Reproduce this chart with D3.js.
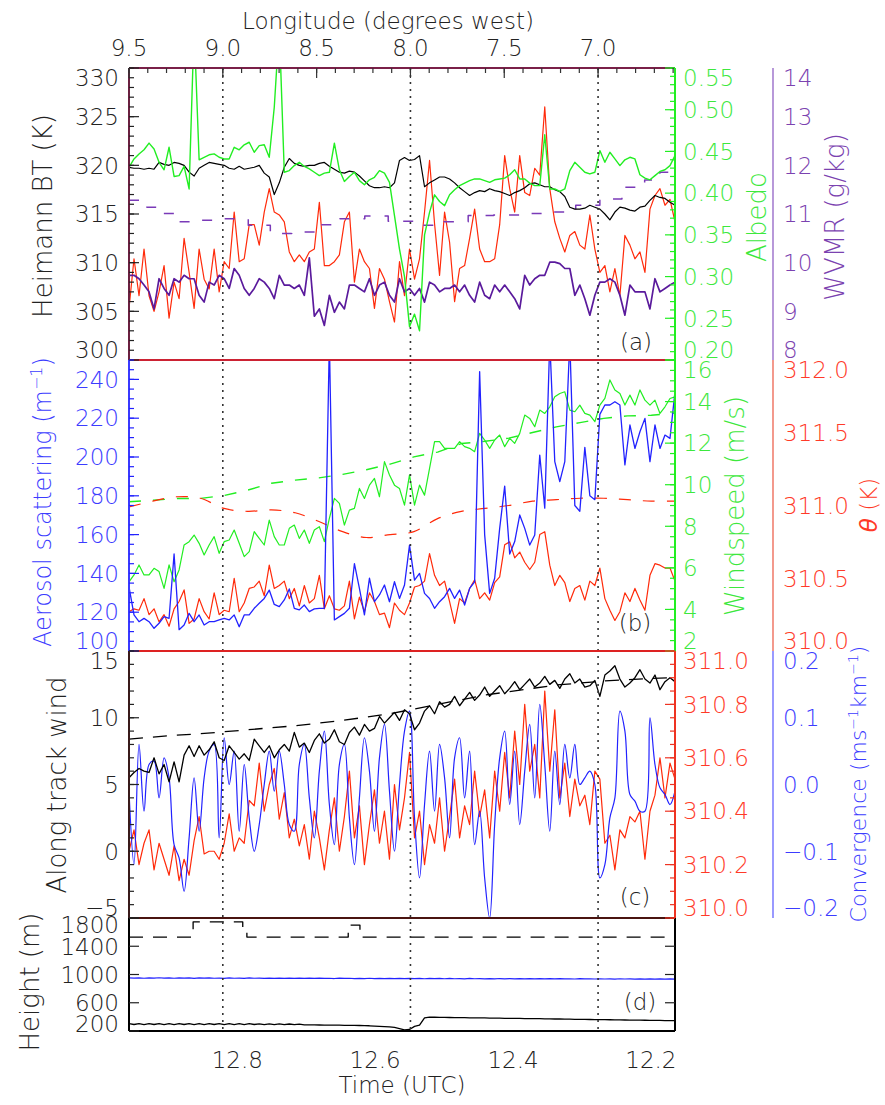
<!DOCTYPE html>
<html><head><meta charset="utf-8">
<script src="https://cdn.jsdelivr.net/npm/d3@7"></script>
<style>
body{margin:0;background:#fff;}
svg text{font-family:"DejaVu Sans",sans-serif;font-weight:200;}
</style></head><body>
<svg id="c" width="885" height="1105"></svg>
<script>
// ---------------- DATA ----------------
const timeStart = 12.957, timeEnd = 12.165;          // UTC hours, left to right
const timeTicks = [12.8, 12.6, 12.4, 12.2];
const lonDomain = [9.5, 6.59];                         // degrees west at left/right edge
const lonTicks = [9.5, 9.0, 8.5, 8.0, 7.5, 7.0];
const lonMarks = [9.0, 8.0, 7.0];

// panel (a)
const btTicks = [300, 305, 310, 315, 320, 325, 330];
const albedoTicks = [0.20, 0.25, 0.30, 0.35, 0.40, 0.45, 0.50, 0.55];
const wvmrTicks = [8, 9, 10, 11, 12, 13, 14];
const btBlack = [319.8,319.7,319.7,319.6,319.7,319.6,320.3,320.1,320.0,320.3,
320.2,320.0,319.3,318.9,319.7,320.0,320.3,320.2,320.1,320.0,
319.7,319.6,319.9,319.6,319.7,319.8,320.0,319.2,318.8,317.0,
318.2,319.8,320.7,320.2,320.0,319.9,320.0,320.0,320.2,320.3,
319.9,319.6,319.3,319.2,319.4,319.3,318.9,318.4,317.9,317.7,
317.7,317.8,317.7,318.2,320.5,320.8,320.5,320.6,321.0,317.8,
318.2,318.5,318.8,318.8,318.6,318.2,317.7,317.3,316.9,317.2,
317.4,317.3,317.6,317.4,317.3,317.1,316.9,317.2,317.4,317.7,
318.1,318.2,318.0,317.8,317.8,317.5,317.3,316.8,315.7,315.5,
315.5,315.6,315.9,315.7,315.5,315.0,314.4,315.2,315.7,315.6,
315.4,315.3,315.7,315.8,316.4,316.9,316.7,316.6,316.2,315.9];
const btRed = [305.3,310.4,306.6,311.4,306.6,305.0,307.0,309.7,304.3,308.0,
306.3,312.5,309.0,305.3,311.4,308.3,307.3,311.4,307.0,310.1,
309.4,315.2,310.1,310.4,313.9,313.9,311.8,315.2,317.6,315.2,
314.9,314.2,311.1,310.1,310.8,310.1,311.1,311.4,316.2,309.7,
309.7,310.1,310.8,314.2,315.2,308.0,311.4,310.1,309.4,305.3,
309.4,308.3,306.0,303.9,310.1,306.6,311.4,308.3,310.4,315.2,
320.5,314.0,308.7,315.2,312.1,306.0,309.4,309.7,312.5,315.5,
311.4,310.1,310.1,310.4,313.9,321.0,317.6,315.2,321.0,317.2,
316.9,319.7,319.0,326.0,317.6,314.2,312.5,311.1,312.8,313.2,
311.8,311.4,314.9,311.4,309.0,309.7,307.0,309.4,306.6,312.8,
311.8,310.4,311.1,309.0,315.5,316.9,317.6,315.9,316.5,314.2];
const albedo = [0.431,0.441,0.447,0.452,0.460,0.453,0.437,0.428,0.455,0.420,
0.421,0.432,0.405,0.600,0.440,0.443,0.446,0.447,0.443,0.441,
0.441,0.455,0.452,0.458,0.461,0.449,0.457,0.458,0.443,0.503,
0.600,0.425,0.427,0.433,0.437,0.432,0.429,0.425,0.421,0.424,
0.425,0.460,0.428,0.414,0.420,0.425,0.415,0.410,0.416,0.419,
0.427,0.424,0.413,0.373,0.333,0.300,0.240,0.255,0.235,0.350,
0.377,0.398,0.390,0.385,0.398,0.404,0.409,0.412,0.415,0.417,
0.417,0.415,0.413,0.416,0.417,0.418,0.422,0.428,0.417,0.417,
0.412,0.409,0.409,0.470,0.405,0.405,0.402,0.405,0.427,0.437,
0.431,0.425,0.423,0.425,0.451,0.437,0.449,0.441,0.433,0.440,
0.443,0.441,0.422,0.418,0.416,0.421,0.426,0.428,0.433,0.445];
const wvmr = [9.74,9.74,9.67,9.54,9.40,9.05,9.67,9.47,9.33,9.67,
9.60,9.74,9.67,9.67,9.33,9.19,9.60,9.54,9.74,9.67,
9.47,9.88,9.74,9.47,9.33,9.47,9.67,9.60,9.47,9.26,
9.74,9.54,9.54,9.47,9.54,9.33,10.10,8.90,9.05,8.71,
9.33,8.98,9.19,9.05,9.54,9.54,9.47,9.40,9.67,9.33,
9.54,9.60,9.33,9.19,9.67,9.40,9.47,9.33,9.47,9.19,
9.60,9.54,9.40,9.47,9.47,9.54,9.40,9.54,9.33,9.19,
9.60,9.33,9.26,9.54,9.40,9.54,9.40,9.26,9.05,9.74,
9.54,9.67,9.74,9.74,10.01,10.01,9.98,9.88,9.88,9.33,
9.54,9.26,8.92,9.33,9.60,9.60,9.67,9.60,9.33,8.92,
9.54,9.40,9.40,9.40,9.05,9.67,9.40,9.47,9.54,9.60];
const wvmrStepT = [12.957,12.931,12.912,12.886,12.860,12.822,12.784,12.752,12.721,12.683,12.651,12.615,12.581,12.538,12.500,12.465,12.428,12.390,12.349,12.309,12.274,12.242,12.209,12.187,12.165];
const wvmrStepV = [11.28,11.14,11.01,10.84,10.87,10.90,10.77,10.60,10.63,10.78,10.90,10.96,10.85,10.77,10.84,10.97,10.98,11.01,11.04,11.18,11.31,11.55,11.70,11.86,11.86];

// panel (b)
const aeroTicks = [100, 120, 140, 160, 180, 200, 220, 240];
const windTicks = [2, 4, 6, 8, 10, 12, 14, 16];
const thetaBTicks = [310.0, 310.5, 311.0, 311.5, 312.0];
const aerosol = [133,118.6,115.1,116.8,115.1,111.7,114.3,117.7,116.8,150,
111,113.4,119.4,115.1,118.6,113.4,115.1,115.1,116.0,116.8,
116.0,118.6,112.5,118.6,118.6,122.0,124.6,127.1,131.4,124.0,
122.9,126.3,132,122.0,121.2,123.7,120.3,121.7,122.0,122.0,
260,116.0,117.7,119.4,122.0,145,132.3,118.6,137.5,125.4,
128.9,134.0,125.4,135.7,127.1,134.0,154.6,136.5,140.0,129.7,
127.1,122.0,125.4,128.0,132.3,127.1,131.4,123.7,132.3,135.7,
244,160,129.7,137.5,163.2,185,150,156.4,170.1,163.2,
154.6,159.8,201,173.6,260,197.6,187.3,197.6,260,175,
172,205,180,178,222,226.8,226.8,228.5,226.8,195.9,
216.5,204.4,213.0,219.9,197.6,216.5,204.4,211.3,209.6,233.7];
const windSpeed = [5.33,5.66,6.14,5.66,5.66,5.98,5.82,5.01,6.14,5.33,
5.90,7.10,7.26,7.58,7.18,6.62,7.10,7.50,6.70,7.26,
7.34,7.82,7.18,6.54,6.78,7.74,7.42,7.10,8.30,7.50,
7.10,7.10,7.90,8.06,7.42,7.82,7.18,7.82,7.98,7.26,
8.38,9.34,9.10,8.06,8.78,8.86,9.82,9.34,9.98,10.30,
9.42,11.11,10.47,9.98,9.82,9.02,10.47,9.02,9.98,9.50,
10.79,12.07,12.07,11.75,11.75,11.75,12.07,11.83,11.75,11.59,
12.47,12.15,11.75,12.15,12.39,11.83,12.23,11.99,12.47,13.35,
13.19,12.79,13.59,13.43,13.75,14.23,14.39,14.47,13.59,13.51,
13.83,13.43,13.35,13.03,13.83,14.15,15.04,14.56,14.39,13.83,
14.31,13.83,14.56,14.07,13.83,14.07,13.43,13.75,14.15,14.23];
const windModel = [9.18,9.25,9.34,9.34,9.48,9.74,10.07,10.22,10.33,10.50,10.72,10.99,11.34,11.57,11.98,12.09,12.24,12.51,12.78,12.99,13.19,13.31,13.34,13.45];
const thetaB = [310.27,310.29,310.28,310.36,310.25,310.29,310.20,310.25,310.17,310.29,
310.34,310.42,310.19,310.22,310.36,310.27,310.22,310.40,310.25,310.28,
310.27,310.50,310.27,310.33,310.43,310.44,310.48,310.38,310.59,310.43,
310.45,310.48,310.36,310.43,310.31,310.45,310.33,310.36,310.52,310.29,
310.38,310.29,310.28,310.31,310.48,310.22,310.37,310.27,310.40,310.34,
310.25,310.26,310.16,310.33,310.28,310.25,310.33,310.44,310.45,310.48,
310.67,310.52,310.45,310.48,310.34,310.19,310.36,310.33,310.43,310.49,
310.36,310.40,310.35,310.47,310.51,310.73,310.75,310.64,310.68,310.61,
310.56,310.61,310.80,310.82,310.59,310.45,310.52,310.47,310.34,310.43,
310.45,310.35,310.48,310.45,310.57,310.36,310.28,310.21,310.27,310.40,
310.34,310.43,310.35,310.28,310.52,310.60,310.59,310.57,310.57,310.48];
const thetaModel = [310.99,311.03,311.06,311.05,310.98,310.96,310.97,310.95,310.89,310.82,310.78,310.80,310.82,310.91,310.96,310.98,311.00,311.03,311.04,311.05,311.05,311.04,311.03,311.03];

// panel (c)
const alongTicks = [-5, 0, 5, 10, 15];
const thetaCTicks = [310.0, 310.2, 310.4, 310.6, 310.8, 311.0];
const convTicks = [-0.2, -0.1, 0.0, 0.1, 0.2];
const alongWind = [5.5,5.9,6.2,6.0,5.9,7.0,5.8,6.5,5.2,6.7,
5.2,7.2,7.9,7.1,7.9,7.2,7.6,8.2,7.0,6.8,
7.9,7.4,6.9,7.3,6.8,8.4,7.9,7.4,7.9,7.0,
7.6,8.0,7.5,8.9,7.8,8.1,7.4,8.3,8.8,8.1,
8.4,9.1,8.2,8.0,8.9,9.3,8.7,9.5,9.0,9.2,
10.1,9.6,10.0,10.4,9.8,10.6,10.3,9.1,9.6,10.5,
10.9,10.3,11.2,10.8,11.0,11.6,10.9,11.4,11.9,11.3,
11.7,12.3,11.6,12.0,12.4,11.8,12.2,12.7,12.1,12.5,
12.9,12.3,12.6,13.1,12.5,12.8,12.2,12.9,13.3,12.6,
12.9,12.3,12.4,12.8,11.6,13.2,13.5,13.9,12.9,12.3,
12.6,13.0,13.6,12.9,12.6,13.2,12.1,12.7,13.0,12.7];
const alongModel = [8.4,8.55,8.7,8.8,8.95,9.1,9.25,9.4,9.6,9.8,10.05,10.3,10.65,11.0,11.35,11.7,11.95,12.2,12.45,12.6,12.75,12.85,12.95,13.0];
const thetaC = [310.25,310.33,310.20,310.28,310.33,310.18,310.28,310.22,310.16,310.27,
310.14,310.22,310.16,310.29,310.38,310.24,310.25,310.25,310.22,310.28,
310.39,310.25,310.30,310.28,310.44,310.42,310.58,310.40,310.50,310.56,
310.37,310.47,310.30,310.37,310.27,310.35,310.22,310.40,310.30,310.18,
310.33,310.45,310.25,310.38,310.55,310.30,310.42,310.20,310.35,310.48,
310.28,310.40,310.22,310.50,310.33,310.45,310.62,310.30,310.40,310.20,
310.35,310.28,310.45,310.25,310.38,310.52,310.30,310.42,310.35,310.55,
310.38,310.48,310.30,310.55,310.40,310.62,310.45,310.70,310.50,310.80,
310.55,310.65,310.45,310.85,310.55,310.78,310.45,310.58,310.38,310.52,
310.42,310.46,310.35,310.55,310.52,310.28,310.31,310.18,310.33,310.30,
310.38,310.36,310.40,310.22,310.40,310.46,310.60,310.45,310.58,310.52];
const convergence = [-0.01,-0.12,0.06,-0.04,0.03,0.035,-0.02,0.04,0.01,-0.09,
-0.11,-0.16,-0.08,0.01,-0.07,0.01,0.05,0.06,-0.08,0.07,
0.0,0.05,-0.07,0.03,-0.05,-0.10,-0.06,0.0,0.05,-0.01,
0.05,0.0,-0.06,-0.07,0.03,0.06,-0.02,-0.08,0.02,0.08,
-0.03,-0.09,0.03,0.06,-0.05,-0.12,-0.02,0.07,0.02,-0.07,
0.04,0.09,-0.01,-0.10,0.0,0.08,0.11,-0.05,-0.14,-0.03,
0.05,-0.04,0.06,0.01,-0.08,0.04,0.07,-0.02,0.05,-0.09,
-0.04,-0.14,-0.20,-0.06,0.04,0.08,-0.03,0.05,-0.06,0.02,
0.09,-0.02,0.12,0.03,-0.07,0.05,-0.03,0.06,0.01,0.06,
0.0,0.01,0.02,0.0,-0.14,-0.12,-0.05,-0.02,0.11,0.08,
-0.015,-0.025,-0.04,-0.04,0.10,0.03,-0.005,-0.015,-0.03,-0.01];

// panel (d)
const heightTicks = [200, 600, 1000, 1400, 1800];
const hSurface = [305,292,306,291,305,292,306,290,305,291,
306,292,305,290,306,291,305,292,304,290,
304,291,303,290,303,292,302,290,301,291,
300,289,299,290,298,288,287,286,285,284,
283,283,282,281,280,279,278,276,274,270,
266,262,258,250,232,215,222,265,282,385,
396,395,393,393,391,390,390,388,387,386,
385,385,383,382,382,380,379,378,378,376,
375,374,374,372,371,370,370,368,367,366,
366,364,363,362,362,360,359,358,358,356,
355,354,354,352,351,350,350,348,347,346];
const hBlue = [952,948,953,947,952,949,954,948,951,947,
953,948,952,946,951,948,952,947,950,946,
951,947,950,946,951,947,950,945,949,946,
950,946,949,945,948,944,949,945,948,944,
947,943,948,944,947,943,946,942,947,943,
946,942,945,941,946,942,945,941,944,940,
945,941,944,940,944,940,943,939,944,940,
943,939,942,938,943,939,942,938,941,937,
942,938,941,937,942,938,941,937,940,936,
941,937,940,936,940,936,939,935,940,936,
939,935,938,934,939,935,938,934,937,934];
const hStepT = [12.957,12.864,12.792,12.786,12.639,12.622,12.165];
const hStepV = [1530,1745,1660,1530,1700,1530,1530];

// ---------------- DRAWING ----------------
const L = 129, R = 675, AX2 = 773;
const P = {a:[68,360], b:[360,651], c:[651,918], d:[918,1031]};
const C = {green:"#22ee22", red:"#ff2a0a", blue:"#2222ff", purple:"#5a1a9c", purpleD:"#7a3ab8",
  gLab:"#3de83d", rLab:"#ff3a28", bLab:"#3c3cff", pLab:"#7b42b0"};
const svg = d3.select("#c");
const x = d3.scaleLinear().domain([timeStart, timeEnd]).range([L, R]);
const lon = d3.scaleLinear().domain(lonDomain).range([L, R]);
const FS = 23;

function grid(n){ return d3.range(n).map(i => timeStart + (timeEnd - timeStart) * i / (n - 1)); }

const defs = svg.append("defs");
Object.entries(P).forEach(([k,[t,b]]) => {
  defs.append("clipPath").attr("id","clip"+k).append("rect").attr("x",L).attr("y",t).attr("width",R-L).attr("height",b-t);
});

function series(panel, ts, vs, y, color, o={}){
  const line = d3.line().x((d,i)=>x(ts[i])).y(d=>y(d)).curve(o.curve||d3.curveLinear);
  svg.append("path").attr("clip-path","url(#clip"+panel+")").datum(vs).attr("d",line)
    .attr("fill","none").attr("stroke",color).attr("stroke-width",o.w||1.2)
    .attr("stroke-dasharray",o.dash||null).attr("stroke-linejoin","round");
}

function yAxis(o){
  const g = svg.append("g");
  const [r0,r1] = o.scale.range();
  const top = Math.min(r0,r1), bot = Math.max(r0,r1);
  if(o.line) g.append("line").attr("x1",o.x).attr("x2",o.x).attr("y1",top).attr("y2",bot).attr("stroke",o.line).attr("stroke-width",o.lw||1.6);
  const dir = o.side==="left" ? 1 : -1;
  (o.minor||[]).forEach(v=>{ const yy=o.scale(v); if(yy<top-0.5||yy>bot+0.5) return;
    g.append("line").attr("x1",o.x).attr("x2",o.x+dir*5).attr("y1",yy).attr("y2",yy).attr("stroke",o.tickColor).attr("stroke-width",1.2); });
  o.ticks.forEach(v=>{
    const yy=o.scale(v);
    if(o.tickColor) g.append("line").attr("x1",o.x).attr("x2",o.x+dir*10).attr("y1",yy).attr("y2",yy).attr("stroke",o.tickColor).attr("stroke-width",1.2);
    const m = o.margin==null ? 10 : o.margin;
    const ly = Math.max(top+m, Math.min(bot-m, yy));
    g.append("text").attr("x",o.labelX).attr("y",ly).attr("dy","0.36em")
      .attr("text-anchor",o.anchor).attr("fill",o.color).attr("font-size",FS).text(o.fmt(v));
  });
}
function vTitle(cx, cy, color, fs, parts){
  const t = svg.append("text").attr("transform",`translate(${cx},${cy}) rotate(-90)`)
    .attr("text-anchor","middle").attr("dy","0.36em").attr("fill",color).attr("font-size",fs);
  parts.forEach(p=>{
    const s = t.append("tspan").text(p[0]);
    if(p[1]) s.attr("font-size",Math.round(fs*0.65)).attr("baseline-shift","super");
    if(p[2]) s.attr("font-style","italic");
  });
}
const mr = (a,b,s)=>d3.range(a,b+s/2,s);

// ---- Panel a ----
const yBT = d3.scaleLinear().domain([300,330]).range([P.a[1],P.a[0]]);
const yAlb = d3.scaleLinear().domain([0.20,0.55]).range([P.a[1],P.a[0]]);
const yWV = d3.scaleLinear().domain([8,14]).range([P.a[1],P.a[0]]);
const gridA = grid(btBlack.length);
series("a", gridA, btRed, yBT, C.red, {w:1.2});
series("a", gridA, wvmr, yWV, C.purple, {w:1.7});
series("a", wvmrStepT, wvmrStepV, yWV, C.purpleD, {w:1.5, dash:"10,14", curve:d3.curveStepAfter});
series("a", gridA, btBlack, yBT, "#000", {w:1.2});
series("a", gridA, albedo, yAlb, C.green, {w:1.4});

// ---- Panel b ----
const yAer = d3.scaleLinear().domain([100,250]).range([P.b[1],P.b[0]]);
const yWS = d3.scaleLinear().domain([2,16]).range([P.b[1],P.b[0]]);
const yThB = d3.scaleLinear().domain([310,312]).range([P.b[1],P.b[0]]);
const gridB = grid(aerosol.length);
const gridM = grid(windModel.length);
series("b", gridM, windModel, yWS, C.green, {w:1.4, dash:"12,12"});
series("b", gridM, thetaModel, yThB, C.red, {w:1.2, dash:"12,12", curve:d3.curveCatmullRom});
series("b", gridB, windSpeed, yWS, C.green, {w:1.2});
series("b", gridB, thetaB, yThB, C.red, {w:1.2});
series("b", gridB, aerosol, yAer, C.blue, {w:1.3});

// ---- Panel c ----
const yAl = d3.scaleLinear().domain([-5,15]).range([P.c[1],P.c[0]]);
const yThC = d3.scaleLinear().domain([310,311]).range([P.c[1],P.c[0]]);
const yCv = d3.scaleLinear().domain([-0.2,0.2]).range([P.c[1],P.c[0]]);
const gridC = grid(alongWind.length);
series("c", grid(alongModel.length), alongModel, yAl, "#000", {w:1.3, dash:"14,10"});
series("c", gridC, thetaC, yThC, C.red, {w:1.2});
series("c", gridC, convergence, yCv, C.blue, {w:1.2, curve:d3.curveCatmullRom});
series("c", gridC, alongWind, yAl, "#000", {w:1.3});

// ---- Panel d ----
const yH = d3.scaleLinear().domain([200,1800]).range([P.d[1],P.d[0]]);
const gridD = grid(hSurface.length);
series("d", hStepT, hStepV, yH, "#000", {w:1.3, dash:"14,10", curve:d3.curveStepAfter});
series("d", gridD, hBlue, yH, C.blue, {w:1.2});
series("d", gridD, hSurface, yH, "#000", {w:1.3});

// dotted longitude marks
lonMarks.forEach(v=>{
  svg.append("line").attr("x1",lon(v)).attr("x2",lon(v)).attr("y1",P.a[0]).attr("y2",P.d[1])
    .attr("stroke","#333").attr("stroke-width",1.6).attr("stroke-dasharray","2,5");
});

// frames
function hline(y,c,w){ svg.append("line").attr("x1",L).attr("x2",R).attr("y1",y).attr("y2",y).attr("stroke",c).attr("stroke-width",w||2); }
function vline(xx,y1,y2,c,w){ svg.append("line").attr("x1",xx).attr("x2",xx).attr("y1",y1).attr("y2",y2).attr("stroke",c).attr("stroke-width",w||2); }
hline(P.a[0],"#7a2048"); hline(P.a[1],"#cc2233"); hline(P.b[1],"#dd2222"); hline(P.c[1],"#4a1410"); hline(P.d[1],"#000");
vline(L,P.a[0],P.a[1],"#6a2040"); vline(L,P.b[0],P.b[1],"#3a3aff"); vline(L,P.c[0],P.c[1],"#3a1a1a"); vline(L,P.d[0],P.d[1],"#000");
vline(R,P.a[0],P.a[1],C.green); vline(R,P.b[0],P.b[1],C.green); vline(R,P.c[0],P.c[1],"#ee3322"); vline(R,P.d[0],P.d[1],"#000");

// left axes
yAxis({scale:yBT, x:L, side:"left", ticks:btTicks, minor:mr(300,330,1), tickColor:"#222", color:"#222", labelX:119, anchor:"end", fmt:d3.format("d")});
yAxis({scale:yAer, x:L, side:"left", ticks:aeroTicks, minor:mr(100,250,5), tickColor:C.blue, color:C.bLab, labelX:119, anchor:"end", fmt:d3.format("d")});
yAxis({scale:yAl, x:L, side:"left", ticks:alongTicks, minor:mr(-5,15,1), tickColor:"#222", color:"#222", labelX:119, anchor:"end", fmt:d3.format("d")});
yAxis({scale:yH, x:L, side:"left", ticks:heightTicks, minor:[], tickColor:"#222", color:"#222", labelX:119, anchor:"end", fmt:d3.format("d"), margin:7});
// right axes on frame
yAxis({scale:yAlb, x:R, side:"right", ticks:albedoTicks, minor:mr(0.20,0.55,0.01), tickColor:C.green, color:C.gLab, labelX:683, anchor:"start", fmt:d3.format(".2f")});
yAxis({scale:yWS, x:R, side:"right", ticks:windTicks, minor:mr(2,16,0.5), tickColor:C.green, color:C.gLab, labelX:683, anchor:"start", fmt:d3.format("d")});
yAxis({scale:yThC, x:R, side:"right", ticks:thetaCTicks, minor:mr(310,311,0.05), tickColor:"#ee3322", color:C.rLab, labelX:683, anchor:"start", fmt:d3.format(".1f")});
yAxis({scale:yH, x:R, side:"right", ticks:[600,1000,1400], minor:[], tickColor:"#222", color:"none", labelX:683, anchor:"start", fmt:()=>""});
// offset axes
yAxis({scale:yWV, x:AX2, side:"right", ticks:wvmrTicks, line:"#a67fd0", color:C.pLab, labelX:783, anchor:"start", fmt:d3.format("d")});
yAxis({scale:yThB, x:AX2, side:"right", ticks:thetaBTicks, line:"#f08070", color:C.rLab, labelX:783, anchor:"start", fmt:d3.format(".1f")});
yAxis({scale:yCv, x:AX2, side:"right", ticks:convTicks, line:"#8080ff", color:C.bLab, labelX:783, anchor:"start", fmt:d3.format(".1f")});

// top longitude axis
lonTicks.forEach(v=>{
  svg.append("line").attr("x1",lon(v)).attr("x2",lon(v)).attr("y1",P.a[0]).attr("y2",P.a[0]+10).attr("stroke","#333").attr("stroke-width",1.2);
  svg.append("text").attr("x",lon(v)).attr("y",56).attr("text-anchor","middle").attr("font-size",FS).attr("fill","#222").text(d3.format(".1f")(v));
});
mr(6.6,9.5,0.1).forEach(v=>{
  svg.append("line").attr("x1",lon(v)).attr("x2",lon(v)).attr("y1",P.a[0]).attr("y2",P.a[0]+5).attr("stroke","#333").attr("stroke-width",1.2);
});
svg.append("text").attr("x",388).attr("y",29).attr("text-anchor","middle").attr("font-size",FS).attr("fill","#222").text("Longitude (degrees west)");

// bottom time axis
timeTicks.forEach(v=>{
  svg.append("text").attr("x",x(v)).attr("y",1068).attr("text-anchor","middle").attr("font-size",FS).attr("fill","#222").text(d3.format(".1f")(v));
});
svg.append("text").attr("x",402).attr("y",1093).attr("text-anchor","middle").attr("font-size",FS).attr("fill","#222").text("Time (UTC)");

// titles
vTitle(43, 216, "#222", 26, [["Heimann BT (K)"]]);
vTitle(757, 217, C.gLab, 26, [["Albedo"]]);
vTitle(835, 217, C.pLab, 26, [["WVMR (g/kg)"]]);
vTitle(42, 502, C.bLab, 24, [["Aerosol scattering (m"],["−1",true],[")"]]);
vTitle(735, 506, C.gLab, 26, [["Windspeed (m/s)"]]);
vTitle(869, 505, C.rLab, 23, [["θ",false,true],[" (K)"]]);
vTitle(57, 785, "#222", 26, [["Along track wind"]]);
vTitle(858, 784, C.bLab, 22, [["Convergence (ms"],["−1",true],["km"],["−1",true],[")"]]);
vTitle(30, 982, "#222", 26, [["Height (m)"]]);

// panel letters
[["(a)",636,342],["(b)",635,623],["(c)",635,897],["(d)",640,1002]].forEach(([t,cx,cy])=>{
  svg.append("text").attr("x",cx).attr("y",cy).attr("dy","0.36em").attr("text-anchor","middle").attr("font-size",FS).attr("fill","#222").text(t);
});
</script>
</body></html>
